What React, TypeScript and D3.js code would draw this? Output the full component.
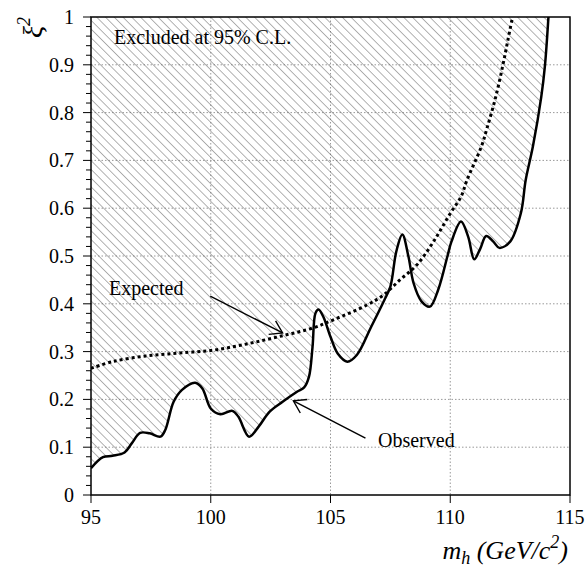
import React from "react";
import * as d3 from "d3";

const obsMass = [95, 95.5, 95.9, 96.4, 96.7, 97.05, 97.45, 97.9, 98.1, 98.45, 98.8, 99.35, 99.65, 100.0, 100.4, 100.9, 101.15, 101.6, 102.0, 102.45, 103.0, 103.6, 103.9, 104.1, 104.25, 104.37, 104.5, 104.7, 105.0, 105.3, 105.7, 106.1, 106.7, 107.25, 107.5, 107.75, 108.0, 108.25, 108.47, 108.8, 109.15, 109.5, 109.88, 110.05, 110.45, 110.75, 111.0, 111.25, 111.5, 111.8, 112.05, 112.5, 112.95, 113.15, 113.45, 113.8, 113.95, 114.1];
const obsXi2 = [0.056, 0.079, 0.082, 0.089, 0.108, 0.13, 0.129, 0.122, 0.136, 0.195, 0.22, 0.235, 0.223, 0.181, 0.169, 0.176, 0.164, 0.122, 0.143, 0.174, 0.195, 0.216, 0.225, 0.247, 0.31, 0.38, 0.388, 0.373, 0.331, 0.296, 0.279, 0.293, 0.352, 0.408, 0.436, 0.51, 0.545, 0.5, 0.443, 0.405, 0.394, 0.43, 0.499, 0.53, 0.572, 0.54, 0.493, 0.515, 0.542, 0.53, 0.517, 0.53, 0.59, 0.659, 0.729, 0.833, 0.896, 1.0];

const expMass = [95, 95.9, 97.3, 98.7, 100.1, 101.5, 102.9, 104.3, 105.1, 106.5, 107.2, 107.9, 108.6, 109.3, 110.0, 110.45, 110.7, 111.3, 111.55, 111.9, 112.2, 112.4, 112.6];
const expXi2 = [0.265, 0.279, 0.291, 0.297, 0.303, 0.316, 0.332, 0.35, 0.366, 0.397, 0.418, 0.45, 0.481, 0.53, 0.589, 0.624, 0.659, 0.729, 0.77, 0.833, 0.9, 0.95, 1.0];

const xTicks = [95, 100, 105, 110, 115];
const yTicks = [0, 0.1, 0.2, 0.3, 0.4, 0.5, 0.6, 0.7, 0.8, 0.9, 1];
const yTickLabels = ["0", "0.1", "0.2", "0.3", "0.4", "0.5", "0.6", "0.7", "0.8", "0.9", "1"];
const yMinor = d3.range(0, 50).map((i) => i * 0.02).filter((v, i) => i % 5 !== 0);

const expArrow = { from: [99.98, 0.416], to: [103.0, 0.339] };
const obsArrow = { from: [106.46, 0.119], to: [103.45, 0.197] };

const W = 586, H = 567;
const L = 91, T = 17, R = 570, B = 495;
const FONT = "Liberation Serif";

export default function App() {
  const x = d3.scaleLinear().domain([95, 115]).range([L, R]);
  const y = d3.scaleLinear().domain([0, 1]).range([B, T]);

  const obsPts: [number, number][] = obsMass.map((m, i) => [m, obsXi2[i]]);
  const expPts: [number, number][] = expMass.map((m, i) => [m, expXi2[i]]);

  const line = d3.line<[number, number]>().x((d) => x(d[0])).y((d) => y(d[1])).curve(d3.curveCatmullRom.alpha(0.5));
  const area = d3.area<[number, number]>().x((d) => x(d[0])).y0(y(1)).y1((d) => y(d[1])).curve(d3.curveCatmullRom.alpha(0.5));

  const arrowHead = (a: { from: number[]; to: number[] }) => {
    const x1 = x(a.from[0]), y1 = y(a.from[1]), x2 = x(a.to[0]), y2 = y(a.to[1]);
    const ang = Math.atan2(y1 - y2, x1 - x2);
    const len = 14, half = (33 * Math.PI) / 180;
    const p1 = [x2 + len * Math.cos(ang + half), y2 + len * Math.sin(ang + half)];
    const p2 = [x2 + len * Math.cos(ang - half), y2 + len * Math.sin(ang - half)];
    return (
      <g stroke="#000" strokeWidth={1.4} fill="none">
        <line x1={x1} y1={y1} x2={x2} y2={y2} />
        <polyline points={`${p1[0]},${p1[1]} ${x2},${y2} ${p2[0]},${p2[1]}`} />
      </g>
    );
  };

  const ts: React.CSSProperties = { fontFamily: FONT };

  return (
    <svg width={W} height={H} style={{ position: "absolute", left: 0, top: 0, fontFamily: FONT }}>
      <defs>
        <pattern id="hatch" patternUnits="userSpaceOnUse" width={6.2} height={6.2} patternTransform="rotate(-45)">
          <line x1={0} y1={0} x2={0} y2={6.2} stroke="#666" strokeWidth={1} />
        </pattern>
        <clipPath id="plotclip">
          <rect x={L} y={T} width={R - L} height={B - T} />
        </clipPath>
      </defs>
      <rect width={W} height={H} fill="#fff" />
      <g stroke="#999" strokeWidth={1} strokeDasharray="1.5,2">
        {yTicks.filter((v) => v > 0 && v < 1).map((v) => (
          <line key={"gy" + v} x1={L} x2={R} y1={y(v)} y2={y(v)} />
        ))}
        {xTicks.filter((v) => v > 95 && v < 115).map((v) => (
          <line key={"gx" + v} x1={x(v)} x2={x(v)} y1={T} y2={B} />
        ))}
      </g>
      <path d={area(obsPts) || ""} fill="url(#hatch)" clipPath="url(#plotclip)" />
      <path d={line(expPts) || ""} fill="none" stroke="#000" strokeWidth={3} strokeDasharray="3,3" clipPath="url(#plotclip)" />
      <path d={line(obsPts) || ""} fill="none" stroke="#000" strokeWidth={2.5} clipPath="url(#plotclip)" />
      <rect x={L} y={T} width={R - L} height={B - T} fill="none" stroke="#000" strokeWidth={1.5} />
      <g stroke="#000" strokeWidth={1}>
        {yTicks.map((v) => (
          <line key={"yt" + v} x1={L - 8} x2={L} y1={y(v)} y2={y(v)} />
        ))}
        {yMinor.map((v) => (
          <line key={"ym" + v} x1={L - 5} x2={L} y1={y(v)} y2={y(v)} />
        ))}
        {xTicks.map((v) => (
          <line key={"xt" + v} x1={x(v)} x2={x(v)} y1={B} y2={B + 8} />
        ))}
      </g>
      <g fontSize={20} fill="#000" style={ts}>
        {yTicks.map((v, i) => (
          <text key={"yl" + v} style={ts} x={L - 17} y={y(v)} dy="0.35em" textAnchor="end">{yTickLabels[i]}</text>
        ))}
        {xTicks.map((v) => (
          <text key={"xl" + v} style={ts} x={x(v)} y={B + 29} textAnchor="middle">{v}</text>
        ))}
      </g>
      <text style={ts} x={568} y={559} textAnchor="end" fontSize={26} fontStyle="italic">
        m<tspan fontSize={18} dy={5}>h</tspan><tspan dy={-5}> (GeV/c</tspan><tspan fontSize={18} dy={-11}>2</tspan><tspan dy={11}>)</tspan>
      </text>
      <text style={ts} transform={`translate(42,${T}) rotate(-90)`} textAnchor="end" fontSize={28} fontStyle="italic">
        ξ<tspan fontSize={18} dy={-12}>2</tspan>
      </text>
      <text style={ts} x={114} y={44} fontSize={20}>Excluded at 95% C.L.</text>
      <text style={ts} x={109} y={295} fontSize={20}>Expected</text>
      <text style={ts} x={378} y={447} fontSize={20}>Observed</text>
      {arrowHead(expArrow)}
      {arrowHead(obsArrow)}
    </svg>
  );
}
